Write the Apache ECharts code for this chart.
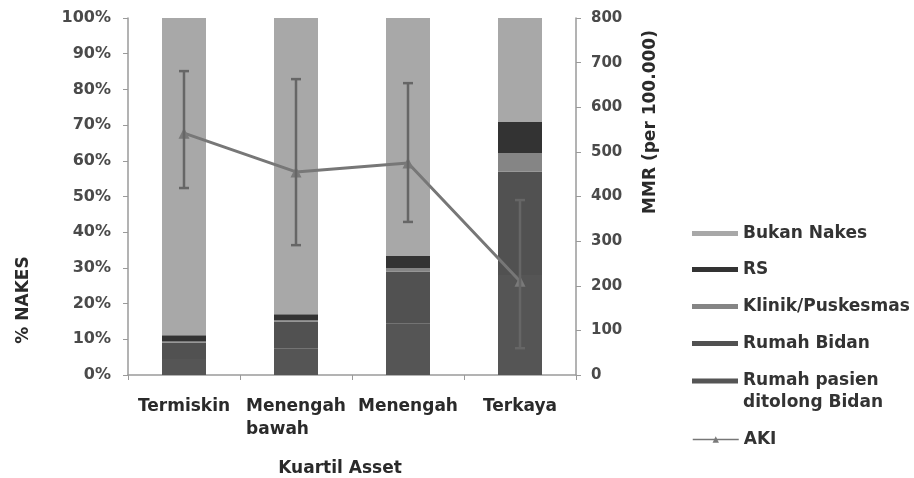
<!DOCTYPE html>
<html>
<head>
<meta charset="utf-8">
<script src="https://cdn.jsdelivr.net/npm/echarts@6/dist/echarts.min.js"></script>
<style>html,body{margin:0;padding:0;background:#fff;}#c{width:914px;height:478px;}</style>
</head>
<body>
<div id="c"></div>
<script>
var categories = ['Termiskin', 'Menengah\nbawah', 'Menengah', 'Terkaya'];
var pasienBidan = [4.5, 7.5, 14.5, 28.0];
var rumahBidan = [4.5, 7.5, 14.5, 28.9];
var klinik = [0.4, 0.4, 1.0, 5.3];
var rs = [1.7, 1.6, 3.3, 8.7];
var bukanNakes = [88.9, 83.0, 66.7, 29.1];
var aki = [542, 455, 475, 210];
var akiLow = [419, 291, 343, 60];
var akiHigh = [681, 663, 654, 392];
var leftTicks = { min: 0, max: 100, interval: 10 };
var rightTicks = { min: 0, max: 800, interval: 100 };

var FONT = 'DejaVu Sans';
var chart = echarts.init(document.getElementById('c'), null, { renderer: 'canvas' });

var errData = categories.map(function (c, i) { return [i, akiLow[i], akiHigh[i]]; });

function barSeries(name, data, color) {
  return {
    name: name, type: 'bar', stack: 'n', data: data, barWidth: 44,
    itemStyle: { color: color }, yAxisIndex: 0, silent: true
  };
}

var legendText = { fontFamily: FONT, fontWeight: 'bold', fontSize: 17, color: '#333' };
var legendBase = {
  orient: 'vertical', left: 692, itemWidth: 46, itemHeight: 5, itemGap: 0, icon: 'rect', padding: 0,
  textStyle: legendText, selectedMode: false
};
function leg(name, top, extra) {
  var o = Object.assign({}, legendBase, { top: top, data: [name] });
  return Object.assign(o, extra || {});
}

var catStyle = { fontFamily: FONT, fontWeight: 'bold', fontSize: 17, color: '#2a2a2a', lineHeight: 23 };

var option = {
  animation: false,
  backgroundColor: '#fff',
  grid: { left: 128, right: 338, top: 18, bottom: 103 },
  xAxis: {
    type: 'category', data: categories,
    axisLine: { lineStyle: { color: '#9a9a9a', width: 1.5 } },
    axisTick: { show: true, length: 5, lineStyle: { color: '#9a9a9a' } },
    axisLabel: Object.assign({
      interval: 0, margin: 20,
      formatter: function (v) {
        if (v.indexOf('\n') < 0) return v;
        return v.split('\n').map(function (s) { return '{l|' + s + '}'; }).join('\n');
      },
      rich: { l: Object.assign({ align: 'left' }, catStyle) }
    }, catStyle)
  },
  yAxis: [
    {
      type: 'value', min: leftTicks.min, max: leftTicks.max, interval: leftTicks.interval,
      axisLine: { show: true, lineStyle: { color: '#9a9a9a', width: 1.5 } },
      axisTick: { show: true, length: 5, lineStyle: { color: '#9a9a9a' } },
      splitLine: { show: false },
      axisLabel: { formatter: '{value}%', fontFamily: FONT, fontWeight: 'bold', fontSize: 16, color: '#4a4a4a', margin: 17 }
    },
    {
      type: 'value', min: rightTicks.min, max: rightTicks.max, interval: rightTicks.interval, position: 'right',
      axisLine: { show: true, lineStyle: { color: '#9a9a9a', width: 1.5 } },
      axisTick: { show: true, length: 5, lineStyle: { color: '#9a9a9a' } },
      splitLine: { show: false },
      axisLabel: { fontFamily: FONT, fontWeight: 'bold', fontSize: 15, color: '#4a4a4a', margin: 15 }
    }
  ],
  legend: [
    leg('Bukan Nakes', 225),
    leg('RS', 261),
    leg('Klinik/Puskesmas', 298),
    leg('Rumah Bidan', 335),
    leg('Rumah pasien ditolong Bidan', 348, {
      formatter: function () { return ' \nRumah pasien\nditolong Bidan'; },
      textStyle: Object.assign({}, legendText, { lineHeight: 22 })
    }),
    leg('AKI', 431, { icon: null, itemHeight: 8, lineStyle: { width: 1.5 } })
  ],
  graphic: [
    { type: 'text', x: 24, y: 300, rotation: Math.PI / 2,
      style: { text: '% NAKES', fontFamily: FONT, fontWeight: 'bold', fontSize: 17, fill: '#2a2a2a', align: 'center', verticalAlign: 'middle' } },
    { type: 'text', x: 651, y: 122, rotation: Math.PI / 2,
      style: { text: 'MMR (per 100.000)', fontFamily: FONT, fontWeight: 'bold', fontSize: 17, fill: '#2a2a2a', align: 'center', verticalAlign: 'middle' } },
    { type: 'text', x: 340, y: 469,
      style: { text: 'Kuartil Asset', fontFamily: FONT, fontWeight: 'bold', fontSize: 17, fill: '#2a2a2a', align: 'center', verticalAlign: 'middle' } }
  ],
  series: [
    barSeries('Rumah pasien ditolong Bidan', pasienBidan, '#555555'),
    barSeries('Rumah Bidan', rumahBidan, '#515151'),
    barSeries('Klinik/Puskesmas', klinik, '#858585'),
    barSeries('RS', rs, '#333333'),
    barSeries('Bukan Nakes', bukanNakes, '#a8a8a8'),
    {
      name: 'AKI', type: 'line', yAxisIndex: 1, data: aki,
      symbol: 'triangle', symbolSize: 11,
      lineStyle: { color: '#777777', width: 3 },
      itemStyle: { color: '#7a7a7a' }, z: 5, silent: true
    },
    {
      name: 'AKI error', type: 'custom', yAxisIndex: 1, data: errData, z: 6, silent: true,
      renderItem: function (params, api) {
        var x = api.value(0);
        var lo = api.coord([x, api.value(1)]);
        var hi = api.coord([x, api.value(2)]);
        var w = 5;
        var st = { stroke: '#666666', lineWidth: 2.5 };
        return {
          type: 'group',
          children: [
            { type: 'line', shape: { x1: lo[0], y1: lo[1], x2: hi[0], y2: hi[1] }, style: st },
            { type: 'line', shape: { x1: lo[0] - w, y1: lo[1], x2: lo[0] + w, y2: lo[1] }, style: st },
            { type: 'line', shape: { x1: hi[0] - w, y1: hi[1], x2: hi[0] + w, y2: hi[1] }, style: st }
          ]
        };
      }
    }
  ]
};
chart.setOption(option);
</script>
</body>
</html>
